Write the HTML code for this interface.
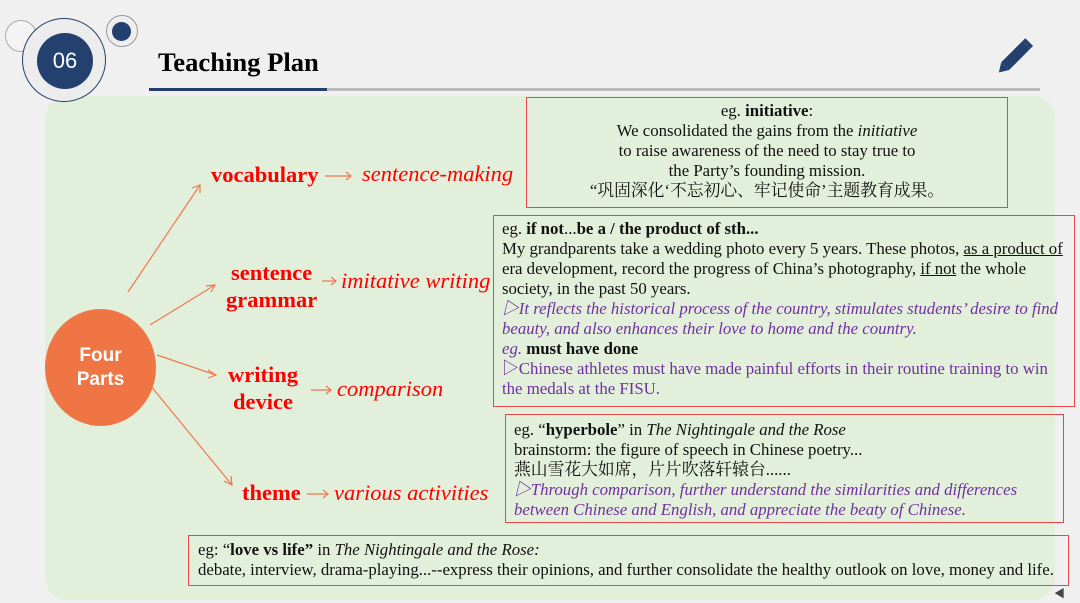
<!DOCTYPE html>
<html><head><meta charset="utf-8"><style>
body{margin:0;width:1080px;height:603px;background:#f0f0f0;position:relative;overflow:hidden;font-family:"Liberation Serif","Noto Serif CJK SC",serif}
.a{position:absolute}
.panel{left:45px;top:96px;width:1010px;height:504px;background:#e2efda;border-radius:22px}
.box{position:absolute;border:1.5px solid #e8474a;font-size:16.8px;line-height:20px;color:#111;box-sizing:border-box;white-space:nowrap}
.red{color:#ff0000;font-size:22.5px;font-weight:bold}
.ri{color:#ff0000;font-size:22.5px;font-style:italic}
.pu{color:#7030a0}
</style></head><body>
<div class="a panel"></div>
<div class="a" style="left:5px;top:20px;width:30px;height:30px;border-radius:50%;background:#f4f4f4;border:1.5px solid #aaa"></div>
<div class="a" style="left:22px;top:18px;width:82px;height:82px;border-radius:50%;border:1.5px solid #24406e;background:#ececec"></div>
<div class="a" style="left:37px;top:33px;width:56px;height:56px;border-radius:50%;background:#24406e;color:#fff;font:22px 'Liberation Sans',sans-serif;text-align:center;line-height:56px">06</div>
<div class="a" style="left:106px;top:15px;width:30px;height:30px;border-radius:50%;border:1.5px solid #999;background:#eee"></div>
<div class="a" style="left:112px;top:22px;width:19px;height:19px;border-radius:50%;background:#24406e"></div>
<div class="a" style="left:158px;top:47px;font-size:26.6px;font-weight:bold">Teaching Plan</div>
<div class="a" style="left:149px;top:88px;width:178px;height:3px;background:#24406e"></div>
<div class="a" style="left:327px;top:88px;width:713px;height:3px;background:#bbb"></div>
<svg class="a" style="left:990px;top:36px" width="48" height="44"><g transform="rotate(-45 24 22)"><rect x="12" y="16" width="30" height="11" fill="#24406e"/><polygon points="12,16 12,27 3,21.5" fill="#24406e"/><rect x="42" y="16" width="4" height="11" fill="#24406e"/></g></svg>
<svg class="a" style="left:0;top:0" width="1080" height="603">
<g stroke="#f07850" stroke-width="1.2" fill="#f07850">
<line x1="128" y1="292" x2="200" y2="185"/><polyline points="192,188 200,185 200,193" fill="none"/>
<line x1="150" y1="325" x2="215" y2="285"/><polyline points="206,286 215,285 211,292" fill="none"/>
<line x1="157" y1="355" x2="216" y2="375"/><polyline points="208,370 216,375 208,378" fill="none"/>
<line x1="150" y1="385" x2="232" y2="485"/><polyline points="231,476 232,485 224,481" fill="none"/>
<line x1="325" y1="176" x2="351" y2="176"/><polyline points="346,172 351,176 346,180" fill="none"/>
<line x1="322" y1="281" x2="336" y2="281"/><polyline points="331,277 336,281 331,285" fill="none"/>
<line x1="311" y1="390" x2="331" y2="390"/><polyline points="326,386 331,390 326,394" fill="none"/>
<line x1="307" y1="494" x2="328" y2="494"/><polyline points="323,490 328,494 323,498" fill="none"/>
</g></svg>
<div class="a" style="left:45px;top:309px;width:111px;height:117px;border-radius:50%;background:#f07544;color:#fff;font:bold 19px 'Liberation Sans',sans-serif;text-align:center;line-height:24px;display:flex;align-items:center;justify-content:center">Four<br>Parts</div>
<div class="a red" style="left:211px;top:162px">vocabulary</div>
<div class="a ri" style="left:362px;top:161px">sentence-making</div>
<div class="a red" style="left:226px;top:259px;text-align:center;line-height:27px">sentence<br>grammar</div>
<div class="a ri" style="left:341px;top:268px">imitative writing</div>
<div class="a red" style="left:228px;top:361px;text-align:center;line-height:27px">writing<br>device</div>
<div class="a ri" style="left:337px;top:376px">comparison</div>
<div class="a red" style="left:242px;top:480px">theme</div>
<div class="a ri" style="left:334px;top:480px">various activities</div>
<div class="box" style="left:526px;top:97px;width:482px;height:111px;text-align:center;padding-top:3px">eg. <b>initiative</b>:<br>We consolidated the gains from the <i>initiative</i><br>to raise awareness of the need to stay true to<br>the Party’s founding mission.<br>“巩固深化‘不忘初心、牢记使命’主题教育成果。</div>
<div class="box" style="left:493px;top:215px;width:582px;height:192px;padding:3px 8px">eg. <b>if not</b>...<b>be a / the product of sth...</b><br>My grandparents take a wedding photo every 5 years. These photos, <u>as a product of</u><br>era development, record the progress of China’s photography, <u>if not</u> the whole<br>society, in the past 50 years.<br><span class="pu"><i>▷It reflects the historical process of the country, stimulates students’ desire to find<br>beauty, and also enhances their love to home and the country.</i><br><i>eg.</i></span> <b>must have done</b><br><span class="pu">▷Chinese athletes must have made painful efforts in their routine training to win<br>the medals at the FISU.</span></div>
<div class="box" style="left:505px;top:414px;width:559px;height:109px;padding:5px 8px">eg. “<b>hyperbole</b>” in <i>The Nightingale and the Rose</i><br>brainstorm: the figure of speech in Chinese poetry...<br>燕山雪花大如席，片片吹落轩辕台......<br><span class="pu"><i>▷Through comparison, further understand the similarities and differences<br>between Chinese and English, and appreciate the beaty of Chinese.</i></span></div>
<div class="box" style="left:188px;top:535px;width:881px;height:51px;padding:4px 9px">eg: “<b>love vs life”</b> in <i>The Nightingale and the Rose:</i><br>debate, interview, drama-playing...--express their opinions, and further consolidate the healthy outlook on love, money and life.</div>
<div class="a" style="left:1054px;top:585px;font-size:11px;color:#444">◀</div>
</body></html>
